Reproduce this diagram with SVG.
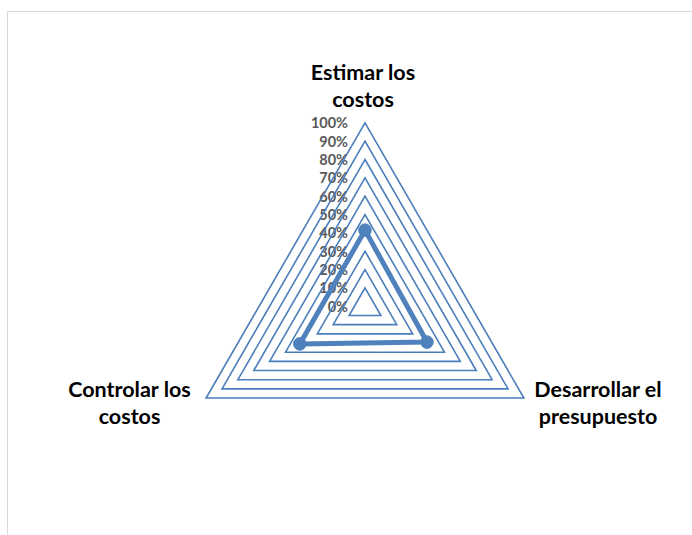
<svg xmlns="http://www.w3.org/2000/svg" width="692" height="535" viewBox="0 0 692 535">
<style>
.frame{fill:none;stroke:#d9d9d9;stroke-width:1}
.ring{fill:none;stroke:#4a7ebb;stroke-width:1.6;stroke-linejoin:miter}
.pct{font-family:Lato,"Liberation Sans",sans-serif;font-weight:bold;font-size:14.5px;fill:#595959;text-anchor:end}
.cat{font-family:Lato,"Liberation Sans",sans-serif;font-weight:bold;font-size:21.5px;fill:#000;text-anchor:middle}
.series{fill:none;stroke:#4f81bd;stroke-width:5;stroke-linejoin:round}
.marker{fill:#4f81bd;stroke:#4f81bd;stroke-width:1}
</style>
<rect x="0" y="0" width="692" height="535" fill="#fff"/>
<path class="frame" d="M7.5,535 V11.5 H692"/>
<g id="axis-labels">
<text class="pct" x="348" y="128.3">100%</text>
<text class="pct" x="348" y="146.65">90%</text>
<text class="pct" x="348" y="165">80%</text>
<text class="pct" x="348" y="183.35">70%</text>
<text class="pct" x="348" y="201.7">60%</text>
<text class="pct" x="348" y="220.05">50%</text>
<text class="pct" x="348" y="238.4">40%</text>
<text class="pct" x="348" y="256.75">30%</text>
<text class="pct" x="348" y="275.1">20%</text>
<text class="pct" x="348" y="293.45">10%</text>
<text class="pct" x="348" y="311.8">0%</text>
</g>
<g id="grid">
<polygon class="ring" points="365,287.95 380.89,315.48 349.11,315.48"/>
<polygon class="ring" points="365,269.6 396.78,324.65 333.22,324.65"/>
<polygon class="ring" points="365,251.25 412.67,333.83 317.33,333.83"/>
<polygon class="ring" points="365,232.9 428.56,343 301.44,343"/>
<polygon class="ring" points="365,214.55 444.46,352.18 285.54,352.18"/>
<polygon class="ring" points="365,196.2 460.35,361.35 269.65,361.35"/>
<polygon class="ring" points="365,177.85 476.24,370.53 253.76,370.53"/>
<polygon class="ring" points="365,159.5 492.13,379.7 237.87,379.7"/>
<polygon class="ring" points="365,141.15 508.02,388.88 221.98,388.88"/>
<polygon class="ring" points="365,122.8 523.91,398.05 206.09,398.05"/>
</g>
<g id="node-estimar">
<text class="cat" x="363" y="80">Estimar los</text>
<text class="cat" x="363" y="107">costos</text>
</g>
<g id="node-desarrollar">
<text class="cat" x="598" y="397">Desarrollar el</text>
<text class="cat" x="598" y="423.5">presupuesto</text>
</g>
<g id="node-controlar">
<text class="cat" x="129.5" y="397">Controlar los</text>
<text class="cat" x="129.5" y="423.5">costos</text>
</g>
<g id="connectors">
<polygon class="series" points="365,230.15 426.98,342.08 299.84,343.92"/>
<circle class="marker" cx="365" cy="230.15" r="6.3"/>
<circle class="marker" cx="426.98" cy="342.08" r="6.3"/>
<circle class="marker" cx="299.84" cy="343.92" r="6.3"/>
</g>
</svg>
